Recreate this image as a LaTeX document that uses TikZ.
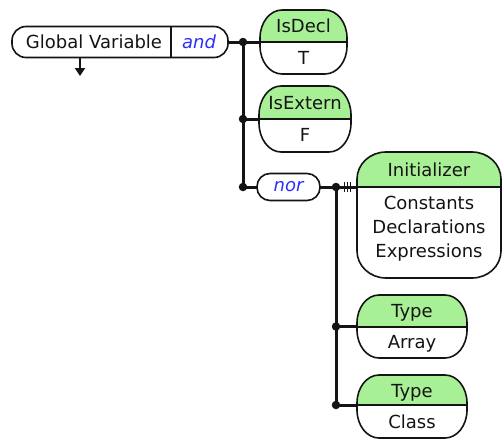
\documentclass[tikz,border=0pt]{standalone}
\usepackage{fontspec}
\setmainfont{DejaVu Sans}
\usetikzlibrary{arrows.meta}

\definecolor{headgreen}{RGB}{168,240,150}
\definecolor{opblue}{RGB}{45,45,255}
\definecolor{inkline}{RGB}{20,20,20}

\tikzset{
  wire/.style={line width=3pt, inkline},
  dot/.style={circle, fill=inkline, inner sep=0pt, minimum size=8.5pt},
  boxline/.style={line width=1.6pt, inkline},
  divline/.style={line width=2pt, inkline},
  label/.style={font=\fontsize{18}{24}\selectfont, text=inkline, inner sep=0pt, anchor=base, align=center},
  oplabel/.style={font=\fontsize{18}{24}\selectfont\itshape, text=opblue, inner sep=0pt},
  hold/.style={inner sep=0pt, outer sep=0pt},
}

% Outline of a box whose corners are quarter ellipses.
% #1 x left, #2 y top, #3 x right, #4 y bottom, #5 x radius, #6 y radius
\newcommand{\ovalpath}[6]{%
  (#1+#5,#2) -- (#3-#5,#2)
  arc[start angle=90, end angle=0, x radius=#5pt, y radius=#6pt]
  -- (#3,#4+#6)
  arc[start angle=0, end angle=-90, x radius=#5pt, y radius=#6pt]
  -- (#1+#5,#4)
  arc[start angle=270, end angle=180, x radius=#5pt, y radius=#6pt]
  -- (#1,#2-#6)
  arc[start angle=180, end angle=90, x radius=#5pt, y radius=#6pt]
  -- cycle}

% Two-part attribute box: green head above a white body.
% #1 name, #2 x left, #3 y top, #4 x right, #5 y bottom, #6 divider y,
% #7 x radius, #8 y radius
\newcommand{\attrbox}[8]{%
  \node[hold, minimum width={#4-#2}, minimum height={#3-#5}]
    (#1) at ({(#2+#4)/2},{(#3+#5)/2}) {};
  \fill[white] \ovalpath{#2}{#3}{#4}{#5}{#7}{#8};
  \fill[headgreen] (#2,#6) -- (#2,#3-#8)
    arc[start angle=180, end angle=90, x radius=#7pt, y radius=#8pt]
    -- (#4-#7,#3)
    arc[start angle=90, end angle=0, x radius=#7pt, y radius=#8pt]
    -- (#4,#6) -- cycle;
  \draw[boxline] \ovalpath{#2}{#3}{#4}{#5}{#7}{#8};
  \draw[divline] (#2,#6) -- (#4,#6);
  \coordinate (#1-in) at (#2,#6);
}

\begin{document}
\begin{tikzpicture}[x=1pt, y=1pt]
\useasboundingbox (0,0) rectangle (502,-439);

% ---- Global Variable entry with its "and" operator ----
\node[hold, draw=inkline, line width=1.6pt, rounded corners=14pt,
      minimum width=216pt, minimum height=31pt, fill=white] (gv) at (120,-42) {};
\draw[line width=2.6pt, inkline] (171,-26.5) -- (171,-57.5);
\node[label] (gvname) at (94,-48.5) {Global Variable};
\node[oplabel, anchor=base] (gvop) at (199,-48.5) {and};
\coordinate (gvarrowtop) at (80,-58);
\coordinate (gvarrowtip) at (80,-76);
\draw[line width=1.8pt, inkline, -{Triangle[width=10pt, length=8pt]}] (gvarrowtop) -- (gvarrowtip);

% ---- attribute boxes ----
\attrbox{isdecl}{260}{-10}{347}{-74}{-42}{22}{28}
\node[label] (isdeclhead) at (303.5,-32) {IsDecl};
\node[label] (isdeclbody) at (303.5,-64) {T};

\attrbox{isextern}{259}{-86}{351}{-152}{-119}{22}{29}
\node[label] (isexternhead) at (305,-109) {IsExtern};
\node[label] (isexternbody) at (305,-141) {F};

\attrbox{init}{357}{-152}{501}{-278}{-187}{29}{27}
\node[label] (inithead) at (429,-176) {Initializer};
\node[label, anchor=north] (initbody) at (429,-196)
  {Constants\\Declarations\\Expressions};

\attrbox{typearray}{357}{-295}{467}{-358}{-326.5}{22}{28}
\node[label] (arrayhead) at (412,-317) {Type};
\node[label] (arraybody) at (412,-348) {Array};

\attrbox{typeclass}{357}{-375}{467}{-438}{-405}{22}{28}
\node[label] (classhead) at (412,-397) {Type};
\node[label] (classbody) at (412,-428) {Class};

% ---- "nor" operator ----
\node[hold, draw=inkline, line width=1.6pt, rounded corners=13pt, fill=white,
      minimum width=63pt, minimum height=27pt] (nor) at (288.5,-187) {};
\node[oplabel] (norop) at (288.5,-187) {nor};

% ---- junctions ----
\coordinate (j1) at (243,-42);
\coordinate (j2) at (243,-119);
\coordinate (j3) at (243,-187);
\coordinate (j4) at (336,-187);
\coordinate (j5) at (336,-326.5);
\coordinate (j6) at (336,-405);

% ---- connectors ----
\draw[wire] (gv.east) -- (j1) -- (isdecl-in);
\draw[wire] (j1) -- (j3) -- (nor.west);
\draw[wire] (j2) -- (isextern-in);
\draw[wire] (nor.east) -- (j4) -- (init-in);
\draw[wire] (j4) -- (j6) -- (typeclass-in);
\draw[wire] (j5) -- (typearray-in);

% multiplicity ticks on the Initializer link
\foreach \tx in {344.5,347.5,350.5}
  \draw[line width=1pt, inkline] (\tx,-182) -- (\tx,-192);

\foreach \j in {j1,j2,j3,j4,j5,j6}
  \node[dot] at (\j) {};
\end{tikzpicture}
\end{document}
